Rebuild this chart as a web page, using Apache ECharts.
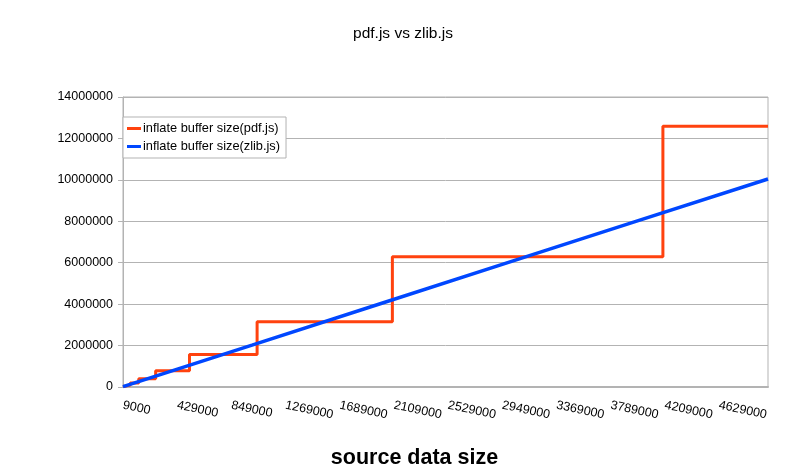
<!DOCTYPE html>
<html>
<head>
<meta charset="utf-8">
<script src="https://cdn.jsdelivr.net/npm/echarts@6/dist/echarts.min.js"></script>
<style>
html,body{margin:0;padding:0;background:#fff;}
#chart{width:799px;height:476px;}
</style>
</head>
<body>
<div id="chart"></div>
<script>
// tick labels of the x axis (source data size)
var xTickLabels = [9000, 429000, 849000, 1269000, 1689000, 2109000, 2529000, 2949000, 3369000, 3789000, 4209000, 4629000];
var xMin = 9000;
var xMax = 5009000;
// pdf.js inflate buffer size: [source size where level starts, buffer size]
var pdfX = [9000, 16384, 32768, 65536, 131072, 262144, 524288, 1048576, 2097152, 4194304, 5009000];
var pdfY = [24576, 49152, 98304, 196608, 393216, 786432, 1572864, 3145728, 6291456, 12582912, 12582912];
// zlib.js inflate buffer size
var zlibX = [9000, 1009000, 2009000, 3009000, 4009000, 5009000];
var zlibY = [20000, 2020000, 4030000, 6040000, 8040000, 10040000];
var seriesNames = ['inflate buffer size(pdf.js)', 'inflate buffer size(zlib.js)'];

function pairs(xs, ys){ return xs.map(function(x,i){ return [x, ys[i]]; }); }

var chart = echarts.init(document.getElementById('chart'), null, {renderer:'canvas'});
var font = 'Liberation Sans, Arial, sans-serif';
chart.setOption({
  animation:false,
  backgroundColor:'#ffffff',
  title:{
    text:'pdf.js vs zlib.js',
    left:398, top:21, textAlign:'center',
    textStyle:{fontFamily:font, fontSize:15.5, fontWeight:'normal', color:'#000'}
  },
  legend:{
    left:123, top:117,
    orient:'vertical',
    backgroundColor:'#fff',
    borderColor:'#b3b3b3', borderWidth:1,
    padding:[5,6,5,4],
    itemGap:5,
    itemWidth:14, itemHeight:3,
    icon:'rect',
    textStyle:{fontFamily:font, fontSize:12.8, color:'#000', padding:[0,0,0,-3]},
    data:seriesNames
  },
  grid:{left:123, right:31, top:97, bottom:89, show:true, borderColor:'#b3b3b3', borderWidth:1, backgroundColor:'transparent'},
  xAxis:{
    type:'value',
    min:xMin, max:xMax,
    name:'source data size',
    nameLocation:'middle',
    nameGap:60,
    nameTextStyle:{fontFamily:font, fontSize:21.5, fontWeight:'bold', color:'#000', padding:[0,62,0,0]},
    axisLine:{show:true, lineStyle:{color:'#b3b3b3', width:2}},
    axisTick:{show:false},
    splitLine:{show:false},
    axisLabel:{
      customValues:xTickLabels,
      rotate:-12,
      margin:18,
      fontFamily:font, fontSize:12.5, color:'#000',
      formatter:function(v){ return String(v); }
    }
  },
  yAxis:{
    type:'value',
    min:0, max:14000000, interval:2000000,
    axisLine:{show:true, lineStyle:{color:'#b3b3b3', width:1}},
    axisTick:{show:true, length:5, lineStyle:{color:'#b3b3b3'}},
    splitLine:{show:true, lineStyle:{color:'#b3b3b3', width:1}},
    axisLabel:{fontFamily:font, fontSize:12.5, color:'#000', margin:10, formatter:function(v){return String(v);}}
  },
  series:[
    {
      name:seriesNames[0], type:'line', step:'end',
      data:pairs(pdfX, pdfY),
      showSymbol:false, symbol:'none',
      lineStyle:{color:'#ff420e', width:3},
      itemStyle:{color:'#ff420e'},
      z:2
    },
    {
      name:seriesNames[1], type:'line',
      data:pairs(zlibX, zlibY),
      showSymbol:false, symbol:'none',
      lineStyle:{color:'#0047ff', width:3.5},
      itemStyle:{color:'#0047ff'},
      z:3
    }
  ]
});
</script>
</body>
</html>
